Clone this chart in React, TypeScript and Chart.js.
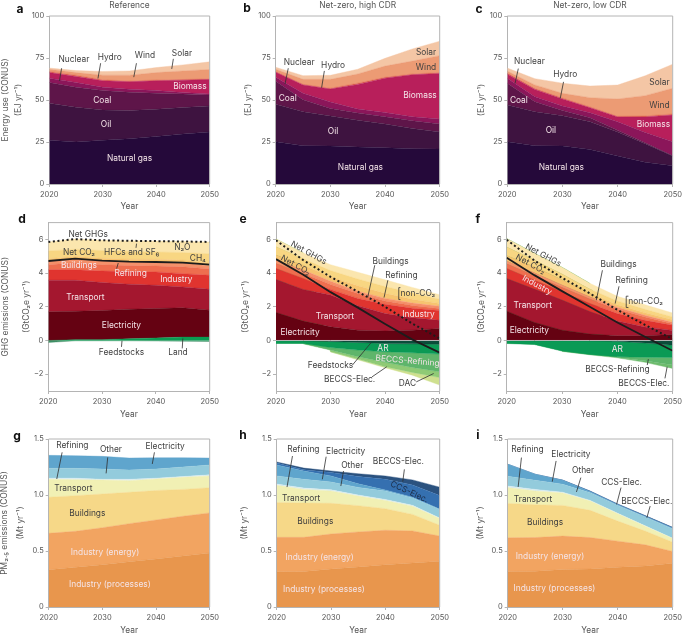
import { useEffect, useRef } from "react";
import { Chart, registerables } from "chart.js";

Chart.register(...registerables);
Chart.defaults.font.family = "Inter, 'Open Sans', sans-serif";

const YEARS = [2020, 2025, 2030, 2035, 2040, 2045, 2050];
const ZERO = [0, 0, 0, 0, 0, 0, 0];

// a: energy use, reference
const aGas = [26, 25, 26, 27, 28.3, 29.7, 31];
const aOil = [22, 20.7, 18, 16.8, 16.2, 15.8, 15.5];
const aCoal = [12.4, 11.9, 11.6, 10.8, 9.5, 8.1, 6.5];
const aNuclear = [2.6, 2.8, 2, 1.8, 1.6, 0.8, 0.5];
const aBiomass = [3.3, 3.6, 3.8, 4.4, 5.8, 7.4, 8.7];
const aHydro = [0.7, 0.8, 0.6, 0.5, 0.5, 0.4, 0.4];
const aWind = [1.3, 1.5, 2.8, 3.5, 4.4, 5.1, 5.6];
const aSolar = [0.7, 1.2, 2.2, 2.5, 3, 3.6, 4.5];

// b: energy use, net-zero high CDR
const bGas = [25.2, 22.8, 22.6, 22, 21.6, 21, 20.8];
const bOil = [22.2, 20.2, 17.9, 16, 14.1, 12, 10.2];
const bCoal = [13.8, 7.2, 4.5, 4.3, 4.3, 4.7, 4.7];
const bNuclear = [2.3, 3.8, 3.8, 2.3, 2.5, 2.3, 3];
const bBiomass = [3, 5, 7.7, 14.7, 20.5, 25, 27];
const bHydro = [0.4, 0.3, 0.5, 0.7, 0.5, 0.5, 0.6];
const bWind = [1.4, 3, 5.3, 5.5, 6.7, 7.7, 10.1];
const bSolar = [1.2, 2.2, 2.4, 2.8, 4.6, 7.2, 8.6];

// c: energy use, net-zero low CDR
const cGas = [25.2, 22.8, 22.6, 20.6, 16.6, 12.9, 10.9];
const cOil = [21.8, 20.2, 18, 16.4, 14.4, 11.1, 5.7];
const cCoal = [13, 6, 3.2, 2.5, 1, 0.5, 0.2];
const cNuclear = [3, 3, 2.6, 2.9, 5, 6.2, 8.4];
const cBiomass = [2.4, 4.3, 4.2, 3, 2.9, 9.2, 15.8];
const cHydro = [0.6, 0.5, 0.6, 0.5, 0.4, 0.6, 0.7];
const cWind = [1.2, 2.2, 2.8, 5.5, 10.3, 12.1, 15.3];
const cSolar = [1.8, 3.7, 6, 6.9, 8.3, 11.8, 14.3];

// d: GHG emissions, reference
const dLand = [0, 0.05, 0.05, 0.1, 0.15, 0.2, 0.2];
const dElectricity = [1.7, 1.69, 1.73, 1.76, 1.75, 1.74, 1.6];
const dTransport = [1.88, 1.84, 1.66, 1.48, 1.38, 1.24, 1.24];
const dIndustry = [0.62, 0.62, 0.69, 0.75, 0.79, 0.79, 0.83];
const dRefining = [0.3, 0.42, 0.37, 0.36, 0.35, 0.41, 0.38];
const dBuildings = [0.22, 0.24, 0.24, 0.23, 0.24, 0.24, 0.17];
const dCh4 = [0.13, 0.14, 0.14, 0.15, 0.16, 0.16, 0.16];
const dN2o = [0.47, 0.42, 0.46, 0.47, 0.44, 0.44, 0.57];
const dHfc = [0.53, 0.6, 0.61, 0.62, 0.64, 0.66, 0.7];
const dFeedstocks = [-0.12, -0.02, -0.02, -0.02, -0.03, -0.04, -0.06];
const dNetCo2 = [4.72, 4.86, 4.74, 4.68, 4.66, 4.62, 4.5];
const dNetGhg = [5.85, 6.02, 5.95, 5.92, 5.9, 5.88, 5.85];

// e: GHG emissions, net-zero high CDR
const eElectricity = [1.66, 1.15, 0.81, 0.61, 0.57, 0.61, 0.71];
const eTransport = [1.96, 1.88, 1.89, 1.45, 1.03, 0.74, 0.49];
const eIndustry = [0.66, 0.65, 0.33, 0.44, 0.55, 0.57, 0.58];
const eRefining = [0.29, 0.3, 0.3, 0.29, 0.2, 0.16, 0.12];
const eBuildings = [0.2, 0.2, 0.19, 0.14, 0.15, 0.14, 0.13];
const eCh4 = [0.3, 0.29, 0.26, 0.32, 0.3, 0.23, 0.17];
const eN2o = [0.49, 0.38, 0.37, 0.4, 0.4, 0.37, 0.25];
const eHfc = [0.46, 0.35, 0.35, 0.4, 0.4, 0.33, 0.27];
const eFeedstocks = [-0.01, -0.02, -0.06, -0.12, -0.18, -0.2, -0.23];
const eAr = [-0.17, -0.16, -0.36, -0.45, -0.49, -0.53, -0.58];
const eBeccsRef = [0, -0.02, -0.15, -0.4, -0.63, -0.87, -1.05];
const eBeccsElec = [0, 0, -0.1, -0.13, -0.26, -0.3, -0.34];
const eDac = [0, 0, -0.01, -0.05, -0.06, -0.16, -0.45];
const eNetCo2 = [4.83, 3.9, 2.87, 1.95, 0.98, 0.05, -0.72];
const eNetGhg = [5.95, 4.77, 3.78, 2.9, 2, 1, 0.12];

// f: GHG emissions, net-zero low CDR
const fElectricity = [1.74, 1.07, 0.61, 0.38, 0.28, 0.28, 0.36];
const fTransport = [1.94, 1.98, 1.79, 1.34, 0.87, 0.52, 0.24];
const fIndustry = [0.6, 0.53, 0.5, 0.48, 0.45, 0.4, 0.3];
const fRefining = [0.27, 0.27, 0.25, 0.27, 0.25, 0.2, 0.1];
const fBuildings = [0.17, 0.17, 0.15, 0.13, 0.12, 0.1, 0.08];
const fCh4 = [0.33, 0.36, 0.3, 0.2, 0.15, 0.15, 0.15];
const fN2o = [0.5, 0.4, 0.35, 0.25, 0.23, 0.2, 0.17];
const fHfc = [0.5, 0.4, 0.4, 0.35, 0.27, 0.27, 0.23];
const fFeedstocks = [-0.01, -0.01, -0.01, -0.02, -0.05, -0.15, -0.28];
const fAr = [-0.17, -0.23, -0.62, -0.81, -0.92, -0.85, -0.73];
const fBeccsRef = [0, 0, 0, 0, -0.04, -0.2, -0.45];
const fBeccsElec = [0, 0, -0.02, -0.02, -0.02, -0.1, -0.2];
const fNetCo2 = [4.91, 3.88, 2.93, 2, 1.07, 0.22, -0.61];
const fNetGhg = [5.98, 4.75, 3.72, 2.8, 1.82, 0.92, 0.08];

// g: PM2.5, reference
const gProcesses = [0.333, 0.354, 0.378, 0.405, 0.429, 0.455, 0.482];
const gEnergy = [0.325, 0.322, 0.33, 0.339, 0.348, 0.355, 0.358];
const gBuildings = [0.322, 0.318, 0.301, 0.28, 0.263, 0.24, 0.225];
const gTransport = [0.16, 0.143, 0.125, 0.104, 0.103, 0.108, 0.105];
const gRefining = [0.01, 0.013, 0.006, 0.012, 0.007, 0.007, 0.01];
const gOther = [0.088, 0.088, 0.092, 0.083, 0.082, 0.085, 0.088];
const gElectricity = [0.116, 0.113, 0.113, 0.107, 0.101, 0.083, 0.062];

// h: PM2.5, net-zero high CDR
const hProcesses = [0.315, 0.318, 0.339, 0.357, 0.378, 0.393, 0.408];
const hEnergy = [0.307, 0.304, 0.313, 0.313, 0.307, 0.286, 0.226];
const hBuildings = [0.31, 0.307, 0.274, 0.235, 0.193, 0.148, 0.096];
const hTransport = [0.154, 0.121, 0.11, 0.085, 0.074, 0.073, 0.06];
const hRefining = [0.012, 0.012, 0.01, 0.01, 0.008, 0.008, 0.005];
const hOther = [0.072, 0.078, 0.07, 0.068, 0.076, 0.065, 0.075];
const hElectricity = [0.098, 0.074, 0.054, 0.032, 0.009, 0.007, 0.005];
const hCcs = [0.017, 0.011, 0.03, 0.065, 0.095, 0.11, 0.12];
const hBeccs = [0.01, 0.015, 0.015, 0.025, 0.03, 0.045, 0.075];

// i: PM2.5, net-zero low CDR
const iProcesses = [0.316, 0.32, 0.334, 0.34, 0.355, 0.367, 0.39];
const iEnergy = [0.302, 0.3, 0.299, 0.28, 0.233, 0.188, 0.106];
const iBuildings = [0.307, 0.293, 0.274, 0.243, 0.179, 0.123, 0.083];
const iTransport = [0.141, 0.123, 0.111, 0.083, 0.066, 0.044, 0.033];
const iRefining = [0.014, 0.014, 0.007, 0.006, 0.004, 0.003, 0.002];
const iOther = [0.087, 0.081, 0.071, 0.068, 0.07, 0.078, 0.082];
const iElectricity = [0.108, 0.054, 0.035, 0.01, 0.006, 0.006, 0.008];
const iCcs = [0, 0, 0.001, 0.003, 0.004, 0.004, 0.004];
const iBeccs = [0, 0, 0.001, 0.002, 0.003, 0.003, 0.003];

const DARK = "#3f3f3f";
const LIGHT = "#f4e4e8";
const TICK = "#555555";
const FRAME = "#b4b4b4";

// label: [text, year, value, colour, rotation in degrees]
type Note = [string, number, number, string, number?];
// leader: polyline as year, value pairs
type Leader = number[];

const aNotes: Note[] = [["Nuclear", 2024.6, 74.3, DARK], ["Hydro", 2031.3, 75.6, DARK], ["Wind", 2037.9, 76.4, DARK], ["Solar", 2044.8, 77.6, DARK], ["Biomass", 2046.3, 58, LIGHT], ["Coal", 2029.9, 49.5, LIGHT], ["Oil", 2030.6, 35.2, LIGHT], ["Natural gas", 2035, 14.9, LIGHT]];
const aLeaders: Leader[] = [[2022.3, 68.9, 2021.9, 61.4], [2029.6, 71.9, 2029.1, 62.8], [2036.3, 71.9, 2035.8, 63.6], [2043.2, 74.5, 2042.9, 68.5]];
const bNotes: Note[] = [["Nuclear", 2024.3, 72.2, DARK], ["Hydro", 2030.5, 70.8, DARK], ["Solar", 2047.5, 78.4, DARK], ["Wind", 2047.5, 69.4, DARK], ["Biomass", 2046.4, 52.4, LIGHT], ["Coal", 2022.2, 50.8, LIGHT], ["Oil", 2030.5, 31.2, LIGHT], ["Natural gas", 2035.5, 9.9, LIGHT]];
const bLeaders: Leader[] = [[2022.3, 68.9, 2021.7, 59.5], [2028.9, 67.3, 2028.4, 57.3]];
const cNotes: Note[] = [["Nuclear", 2024, 72.7, DARK], ["Hydro", 2030.5, 65, DARK], ["Solar", 2047.6, 60.4, DARK], ["Wind", 2047.6, 46.5, DARK], ["Biomass", 2046.5, 35.4, LIGHT], ["Coal", 2022.1, 49.7, LIGHT], ["Oil", 2027.9, 32.1, LIGHT], ["Natural gas", 2029.8, 10.1, LIGHT]];
const cLeaders: Leader[] = [[2022, 68.7, 2021.4, 59.8], [2030.2, 60.8, 2029.6, 50.9]];

const dNotes: Note[] = [["Net GHGs", 2027.4, 6.32, DARK], ["Net CO₂", 2025.7, 5.22, DARK], ["HFCs and SF₆", 2035.5, 5.22, DARK], ["N₂O", 2044.9, 5.51, DARK], ["CH₄", 2047.8, 4.86, DARK], ["Buildings", 2025.7, 4.43, LIGHT], ["Refining", 2035.3, 3.97, LIGHT], ["Industry", 2043.8, 3.64, LIGHT], ["Transport", 2026.9, 2.55, LIGHT], ["Electricity", 2033.6, 0.89, LIGHT], ["Feedstocks", 2033.6, -0.71, DARK], ["Land", 2044.1, -0.73, DARK]];
const dLeaders: Leader[] = [[2036.4, 5.75, 2036.3, 5.5], [2033, 4.6, 2032.7, 4.27], [2033.7, -0.02, 2033.6, -0.38], [2045, 0.12, 2044.9, -0.47]];
const eNotes: Note[] = [["Net GHGs", 2026, 5.2, DARK, 29], ["Net CO₂", 2023.6, 4.47, DARK, 29], ["Buildings", 2041, 4.72, DARK], ["Refining", 2043, 3.87, DARK], ["non-CO₂", 2046, 2.79, DARK], ["Industry", 2046.1, 1.56, LIGHT], ["Transport", 2030.8, 1.44, LIGHT], ["Electricity", 2024.4, 0.47, LIGHT], ["AR", 2039.6, -0.47, LIGHT], ["BECCS-Refining", 2044.1, -1.21, LIGHT, 5], ["Feedstocks", 2030, -1.46, DARK], ["BECCS-Elec.", 2033.5, -2.34, DARK], ["DAC", 2044.1, -2.53, DARK]];
const eLeaders: Leader[] = [[2038.1, 4.47, 2036.8, 2.55], [2040.5, 3.58, 2039.8, 2.55], [2042.8, 3.14, 2042.5, 3.14, 2042.5, 2.43, 2042.8, 2.43], [2034, -1.46, 2037.4, -0.14], [2037.6, -2.16, 2040.3, -1.56], [2045.7, -2.46, 2048.9, -1.96]];
const fNotes: Note[] = [["Net GHGs", 2026.6, 5.06, DARK, 28], ["Net CO₂", 2024.3, 4.53, DARK, 28], ["Industry", 2025.5, 3.29, LIGHT, 28], ["Transport", 2024.7, 2.06, LIGHT], ["Electricity", 2024.1, 0.57, LIGHT], ["Buildings", 2040.2, 4.51, DARK], ["Refining", 2042.6, 3.54, DARK], ["non-CO₂", 2045.1, 2.29, DARK], ["AR", 2040, -0.51, LIGHT], ["BECCS-Refining", 2040, -1.7, DARK], ["BECCS-Elec.", 2044.8, -2.55, DARK]];
const fLeaders: Leader[] = [[2037.3, 4.17, 2036.2, 2.39], [2040.3, 3.22, 2039.6, 2.19], [2042, 2.63, 2041.6, 2.63, 2041.6, 1.96, 2042, 1.96], [2045.6, -1.11, 2045.4, -1.46], [2049, -1.56, 2048.6, -2.25]];

const gNotes: Note[] = [["Refining", 2024.4, 1.446, DARK], ["Other", 2031.6, 1.41, DARK], ["Electricity", 2041.7, 1.429, DARK], ["Transport", 2024.6, 1.054, DARK], ["Buildings", 2027.2, 0.833, DARK], ["Industry (energy)", 2030.5, 0.488, LIGHT], ["Industry (processes)", 2031.4, 0.202, LIGHT]];
const gLeaders: Leader[] = [[2022.5, 1.381, 2021.5, 1.143], [2031, 1.336, 2030.7, 1.193], [2039.7, 1.381, 2039.3, 1.277]];
const hNotes: Note[] = [["Refining", 2024.9, 1.408, DARK], ["Electricity", 2032.7, 1.387, DARK], ["Other", 2033.9, 1.268, DARK], ["BECCS-Elec.", 2042.4, 1.298, DARK], ["CCS-Elec.", 2044.4, 1.027, "#1d2f4a", 25], ["Transport", 2024.5, 0.973, DARK], ["Buildings", 2027.1, 0.768, DARK], ["Industry (energy)", 2027.9, 0.44, LIGHT], ["Industry (processes)", 2028.7, 0.152, LIGHT]];
const hLeaders: Leader[] = [[2022.9, 1.348, 2021.9, 1.071], [2029.1, 1.342, 2028.4, 1.14], [2032.3, 1.214, 2031.8, 1.08], [2043.5, 1.229, 2043.2, 1.119]];
const iNotes: Note[] = [["Refining", 2023.6, 1.403, DARK], ["Electricity", 2031.5, 1.358, DARK], ["Other", 2033.7, 1.215, DARK], ["CCS-Elec.", 2040.7, 1.11, DARK], ["BECCS-Elec.", 2045.3, 0.946, DARK], ["Transport", 2024.6, 0.964, DARK], ["Buildings", 2026.8, 0.752, DARK], ["Industry (energy)", 2027.7, 0.451, LIGHT], ["Industry (processes)", 2028.5, 0.167, LIGHT]];
const iLeaders: Leader[] = [[2022.5, 1.334, 2021.9, 1.072], [2028.8, 1.304, 2028.1, 1.119], [2033.3, 1.155, 2032.5, 1.027], [2040.6, 1.066, 2039.8, 0.916], [2045.9, 0.901, 2045.3, 0.797]];

const C = {
  gas: "#25093a", oil: "#3e1340", coal: "#5e1549", nuclear: "#8b165a", biomass: "#b81f5b",
  hydro: "#e0664f", wind: "#ec9b74", solar: "#f4c6a5",
  elec: "#650212", trans: "#a4172f", ind: "#e0342f", ref: "#ee6e4f", bld: "#f5916a",
  ch4: "#f6c470", n2o: "#f8d682", hfc: "#fbe6ae",
  land: "#0b9b52", feed: "#0a4d3a", ar: "#0a9a55", bref: "#5fb56b", belec: "#8fca75", dac: "#cfe08f",
  proc: "#e8964d", pen: "#f2a461", pbld: "#f6d888", ptr: "#f1f0b4", pref: "#d8ecef", pother: "#93cbdc",
  pelec: "#5fa5cd", pccs: "#3570b0", pbeccs: "#2b527f",
};

type Series = [string, number[], string];
interface PanelDef {
  letter: string; lx: number; ly: number;
  heading?: string;
  left: number; top: number; width: number; height: number;
  plotLeft: number; plotRight: number; plotTop: number; plotBottom: number;
  yMin: number; yMax: number; step: number; tickStep: number;
  yTitle: string[]; titleX: number; titleGap: number;
  yearPad: number;
  series: Series[];
  netCo2?: number[]; netGhg?: number[]; zero?: boolean;
  notes: Note[]; leaders: Leader[];
}

const energy = (g: number[], o: number[], c: number[], n: number[], b: number[], h: number[], w: number[], s: number[]): Series[] => [
  ["Natural gas", g, C.gas], ["Oil", o, C.oil], ["Coal", c, C.coal], ["Nuclear", n, C.nuclear],
  ["Biomass", b, C.biomass], ["Hydro", h, C.hydro], ["Wind", w, C.wind], ["Solar", s, C.solar],
];
const ghg = (el: number[], t: number[], i: number[], r: number[], bl: number[], m: number[], n: number[], hf: number[]): Series[] => [
  ["Electricity", el, C.elec], ["Transport", t, C.trans], ["Industry", i, C.ind], ["Refining", r, C.ref],
  ["Buildings", bl, C.bld], ["CH4", m, C.ch4], ["N2O", n, C.n2o], ["HFCs and SF6", hf, C.hfc],
];
const pm = (p: number[], e: number[], bl: number[], t: number[], r: number[], o: number[], el: number[]): Series[] => [
  ["Industry (processes)", p, C.proc], ["Industry (energy)", e, C.pen], ["Buildings", bl, C.pbld], ["Transport", t, C.ptr],
  ["Refining", r, C.pref], ["Other", o, C.pother], ["Electricity", el, C.pelec],
];

const row1 = { top: 0, height: 212, plotTop: 16, plotBottom: 184, yMin: 0, yMax: 100, step: 25, tickStep: 25, yearPad: 0 };
// min of -3 with labels only on even values, so ticks are built per unit and filtered
const row2 = { top: 212, height: 212, plotTop: 222.6, plotBottom: 391, yMin: -3, yMax: 7, step: 2, tickStep: 1, yearPad: 4 };
const row3 = { top: 424, height: 212, plotTop: 439, plotBottom: 607, yMin: 0, yMax: 1.5, step: 0.5, tickStep: 0.5, yearPad: 0 };

const PANELS: PanelDef[] = [
  { ...row1, letter: "a", lx: 20, ly: 9, heading: "Reference", left: 0, width: 222, plotLeft: 49.3, plotRight: 217.3, yTitle: ["Energy use (CONUS)", "(EJ yr⁻¹)"], titleX: 5, titleGap: 13, series: energy(aGas, aOil, aCoal, aNuclear, aBiomass, aHydro, aWind, aSolar), notes: aNotes, leaders: aLeaders },
  { ...row1, letter: "b", lx: 247, ly: 8, heading: "Net-zero, high CDR", left: 222, width: 230, plotLeft: 275.7, plotRight: 445, yTitle: ["(EJ yr⁻¹)"], titleX: 248.3, titleGap: 12, series: energy(bGas, bOil, bCoal, bNuclear, bBiomass, bHydro, bWind, bSolar), notes: bNotes, leaders: bLeaders },
  { ...row1, letter: "c", lx: 479, ly: 9, heading: "Net-zero, low CDR", left: 452, width: 233, plotLeft: 507.3, plotRight: 675.3, yTitle: ["(EJ yr⁻¹)"], titleX: 481, titleGap: 12, series: energy(cGas, cOil, cCoal, cNuclear, cBiomass, cHydro, cWind, cSolar), notes: cNotes, leaders: cLeaders },
  { ...row2, letter: "d", lx: 22, ly: 219, left: 0, width: 222, plotLeft: 48.3, plotRight: 217.3, yTitle: ["GHG emissions (CONUS)", "(GtCO₂e yr⁻¹)"], titleX: 5, titleGap: 21, series: [["Land", dLand, C.land], ...ghg(dElectricity, dTransport, dIndustry, dRefining, dBuildings, dCh4, dN2o, dHfc), ["Feedstocks", dFeedstocks, "#3f8f66"]], netCo2: dNetCo2, netGhg: dNetGhg, notes: dNotes, leaders: dLeaders },
  { ...row2, letter: "e", lx: 243, ly: 219, left: 222, width: 230, plotLeft: 276, plotRight: 444.7, yTitle: ["(GtCO₂e yr⁻¹)"], titleX: 245, titleGap: 12, series: [...ghg(eElectricity, eTransport, eIndustry, eRefining, eBuildings, eCh4, eN2o, eHfc), ["Feedstocks", eFeedstocks, C.feed], ["AR", eAr, C.ar], ["BECCS-Refining", eBeccsRef, C.bref], ["BECCS-Elec.", eBeccsElec, C.belec], ["DAC", eDac, C.dac]], netCo2: eNetCo2, netGhg: eNetGhg, zero: true, notes: eNotes, leaders: eLeaders },
  { ...row2, letter: "f", lx: 478, ly: 219, left: 452, width: 233, plotLeft: 506.7, plotRight: 675.3, yTitle: ["(GtCO₂e yr⁻¹)"], titleX: 481, titleGap: 12, series: [...ghg(fElectricity, fTransport, fIndustry, fRefining, fBuildings, fCh4, fN2o, fHfc), ["Feedstocks", fFeedstocks, C.feed], ["AR", fAr, C.ar], ["BECCS-Refining", fBeccsRef, C.bref], ["BECCS-Elec.", fBeccsElec, "#6fbc6e"]], netCo2: fNetCo2, netGhg: fNetGhg, zero: true, notes: fNotes, leaders: fLeaders },
  { ...row3, letter: "g", lx: 17, ly: 436, left: 0, width: 222, plotLeft: 48.7, plotRight: 216.7, yTitle: ["PM₂.₅ emissions (CONUS)", "(Mt yr⁻¹)"], titleX: 4, titleGap: 16, series: pm(gProcesses, gEnergy, gBuildings, gTransport, gRefining, gOther, gElectricity), notes: gNotes, leaders: gLeaders },
  { ...row3, letter: "h", lx: 243, ly: 435, left: 222, width: 230, plotLeft: 276.7, plotRight: 444, yTitle: ["(Mt yr⁻¹)"], titleX: 244, titleGap: 12, series: [...pm(hProcesses, hEnergy, hBuildings, hTransport, hRefining, hOther, hElectricity), ["CCS-Elec.", hCcs, C.pccs], ["BECCS-Elec.", hBeccs, C.pbeccs]], notes: hNotes, leaders: hLeaders },
  { ...row3, letter: "i", lx: 478, ly: 435, left: 452, width: 233, plotLeft: 507.7, plotRight: 675, yTitle: ["(Mt yr⁻¹)"], titleX: 480, titleGap: 12, series: [...pm(iProcesses, iEnergy, iBuildings, iTransport, iRefining, iOther, iElectricity), ["CCS-Elec.", iCcs, C.pccs], ["BECCS-Elec.", iBeccs, C.pbeccs]], notes: iNotes, leaders: iLeaders },
];

const points = (values: number[]) => YEARS.map((x, i) => ({ x, y: values[i] }));

function buildDatasets(p: PanelDef) {
  let seenPos = false;
  let seenNeg = false;
  const areas = p.series.map(([label, values, color]) => {
    const negative = values.some((v) => v < 0);
    const first = negative ? !seenNeg : !seenPos;
    if (negative) seenNeg = true;
    else seenPos = true;
    return {
      label,
      data: points(values),
      backgroundColor: color,
      borderColor: color,
      borderWidth: 0.4,
      fill: first ? "origin" : "-1",
      pointRadius: 0,
      tension: 0,
    };
  });
  const lines: any[] = [];
  if (p.zero) lines.push({ label: "zero", data: points(ZERO), stack: "zero", borderColor: "#b9b9b9", borderWidth: 1, pointRadius: 0, fill: false, order: -1 });
  if (p.netCo2) lines.push({ label: "Net CO2", data: points(p.netCo2), stack: "co2", borderColor: "#1c1c1c", borderWidth: 1.8, pointRadius: 0, fill: false, order: -2 });
  if (p.netGhg) lines.push({ label: "Net GHGs", data: points(p.netGhg), stack: "ghg", borderColor: "#1c1c1c", borderWidth: 2, borderDash: [2, 2.6], pointRadius: 0, fill: false, order: -3 });
  return [...areas, ...lines];
}

// frame on top and right, and the in-plot labels with their leader lines
function notesPlugin(p: PanelDef) {
  return {
    id: "notes",
    afterDatasetsDraw(chart: any) {
      const { ctx, chartArea, scales } = chart;
      const X = (v: number) => scales.x.getPixelForValue(v);
      const Y = (v: number) => scales.y.getPixelForValue(v);
      ctx.save();
      ctx.strokeStyle = FRAME;
      ctx.lineWidth = 1;
      ctx.beginPath();
      ctx.moveTo(chartArea.left, chartArea.top);
      ctx.lineTo(chartArea.right, chartArea.top);
      ctx.lineTo(chartArea.right, chartArea.bottom);
      ctx.stroke();

      ctx.strokeStyle = "#303030";
      ctx.lineWidth = 0.8;
      for (const l of p.leaders) {
        ctx.beginPath();
        ctx.moveTo(X(l[0]), Y(l[1]));
        for (let i = 2; i < l.length; i += 2) ctx.lineTo(X(l[i]), Y(l[i + 1]));
        ctx.stroke();
      }

      ctx.font = "8.4px Inter, 'Open Sans', sans-serif";
      ctx.textAlign = "center";
      ctx.textBaseline = "middle";
      for (const [text, year, value, color, rot] of p.notes) {
        ctx.save();
        ctx.translate(X(year), Y(value));
        if (rot) ctx.rotate((rot * Math.PI) / 180);
        ctx.fillStyle = color;
        ctx.fillText(text, 0, 0);
        ctx.restore();
      }
      ctx.restore();
    },
  };
}

function Panel({ p }: { p: PanelDef }) {
  const ref = useRef<HTMLCanvasElement>(null);

  useEffect(() => {
    if (!ref.current) return;
    const chart = new Chart(ref.current, {
      type: "line",
      data: { datasets: buildDatasets(p) as any },
      plugins: [notesPlugin(p)],
      options: {
        responsive: false,
        animation: false,
        events: [],
        layout: {
          padding: {
            top: p.heading ? 0 : p.plotTop - p.top,
            right: p.left + p.width - p.plotRight,
            left: 0,
            bottom: 0,
          },
        },
        plugins: {
          legend: { display: false },
          tooltip: { enabled: false },
          title: {
            display: !!p.heading,
            text: p.heading,
            fullSize: false,
            color: TICK,
            font: { size: 8.4, weight: "normal", lineHeight: 1 },
            padding: { top: 1, bottom: 6.6 },
          },
        },
        scales: {
          x: {
            type: "linear",
            min: 2020,
            max: 2050,
            border: { color: FRAME },
            grid: { drawOnChartArea: false, drawTicks: true, tickLength: 3, tickColor: FRAME },
            ticks: { stepSize: 10, color: TICK, font: { size: 7.5 }, padding: 3, maxRotation: 0, autoSkip: false, callback: (v: any) => String(v) },
            title: { display: true, text: "Year", color: TICK, font: { size: 8.4, lineHeight: 1.2 }, padding: { top: 0, bottom: p.yearPad } },
            afterFit: (s: any) => { s.height = p.top + p.height - p.plotBottom; },
          },
          y: {
            type: "linear",
            stacked: true,
            min: p.yMin,
            max: p.yMax,
            border: { color: FRAME },
            grid: { drawOnChartArea: false, drawTicks: true, tickLength: 3, tickColor: FRAME },
            afterBuildTicks: (s: any) => { s.ticks = s.ticks.filter((t: any) => Math.abs(t.value / p.step - Math.round(t.value / p.step)) < 1e-6); },
            ticks: {
              stepSize: p.tickStep,
              autoSkip: false,
              color: TICK,
              font: { size: 7.5 },
              padding: 2,
              callback: (v: any) => {
                if (v === 0) return "0";
                if (p.step === 0.5) return Number(v).toFixed(1);
                return v < 0 ? `−${-v}` : String(v);
              },
            },
            title: {
              display: true,
              text: p.yTitle,
              color: TICK,
              font: { size: 8.4, lineHeight: p.titleGap / 8.4 },
              padding: { top: p.titleX - p.left - p.titleGap / 2, bottom: 0 },
            },
            afterFit: (s: any) => { s.width = p.plotLeft - p.left; },
          },
        },
      } as any,
    });
    return () => chart.destroy();
  }, [p]);

  return (
    <canvas
      ref={ref}
      width={p.width}
      height={p.height}
      style={{ position: "absolute", left: p.left, top: p.top, width: p.width, height: p.height }}
    />
  );
}

export default function App() {
  useEffect(() => {
    document.body.style.margin = "0";
  }, []);

  return (
    <div style={{ position: "relative", width: 685, height: 634, overflow: "hidden", background: "#fff", fontFamily: "Inter, sans-serif" }}>
      {PANELS.map((p) => (
        <Panel key={p.letter} p={p} />
      ))}
      {PANELS.map((p) => (
        <span
          key={p.letter + "-tag"}
          style={{ position: "absolute", left: p.lx, top: p.ly, transform: "translate(-50%, -50%)", fontSize: 12, fontWeight: 700, lineHeight: 1, color: "#111" }}
        >
          {p.letter}
        </span>
      ))}
    </div>
  );
}
